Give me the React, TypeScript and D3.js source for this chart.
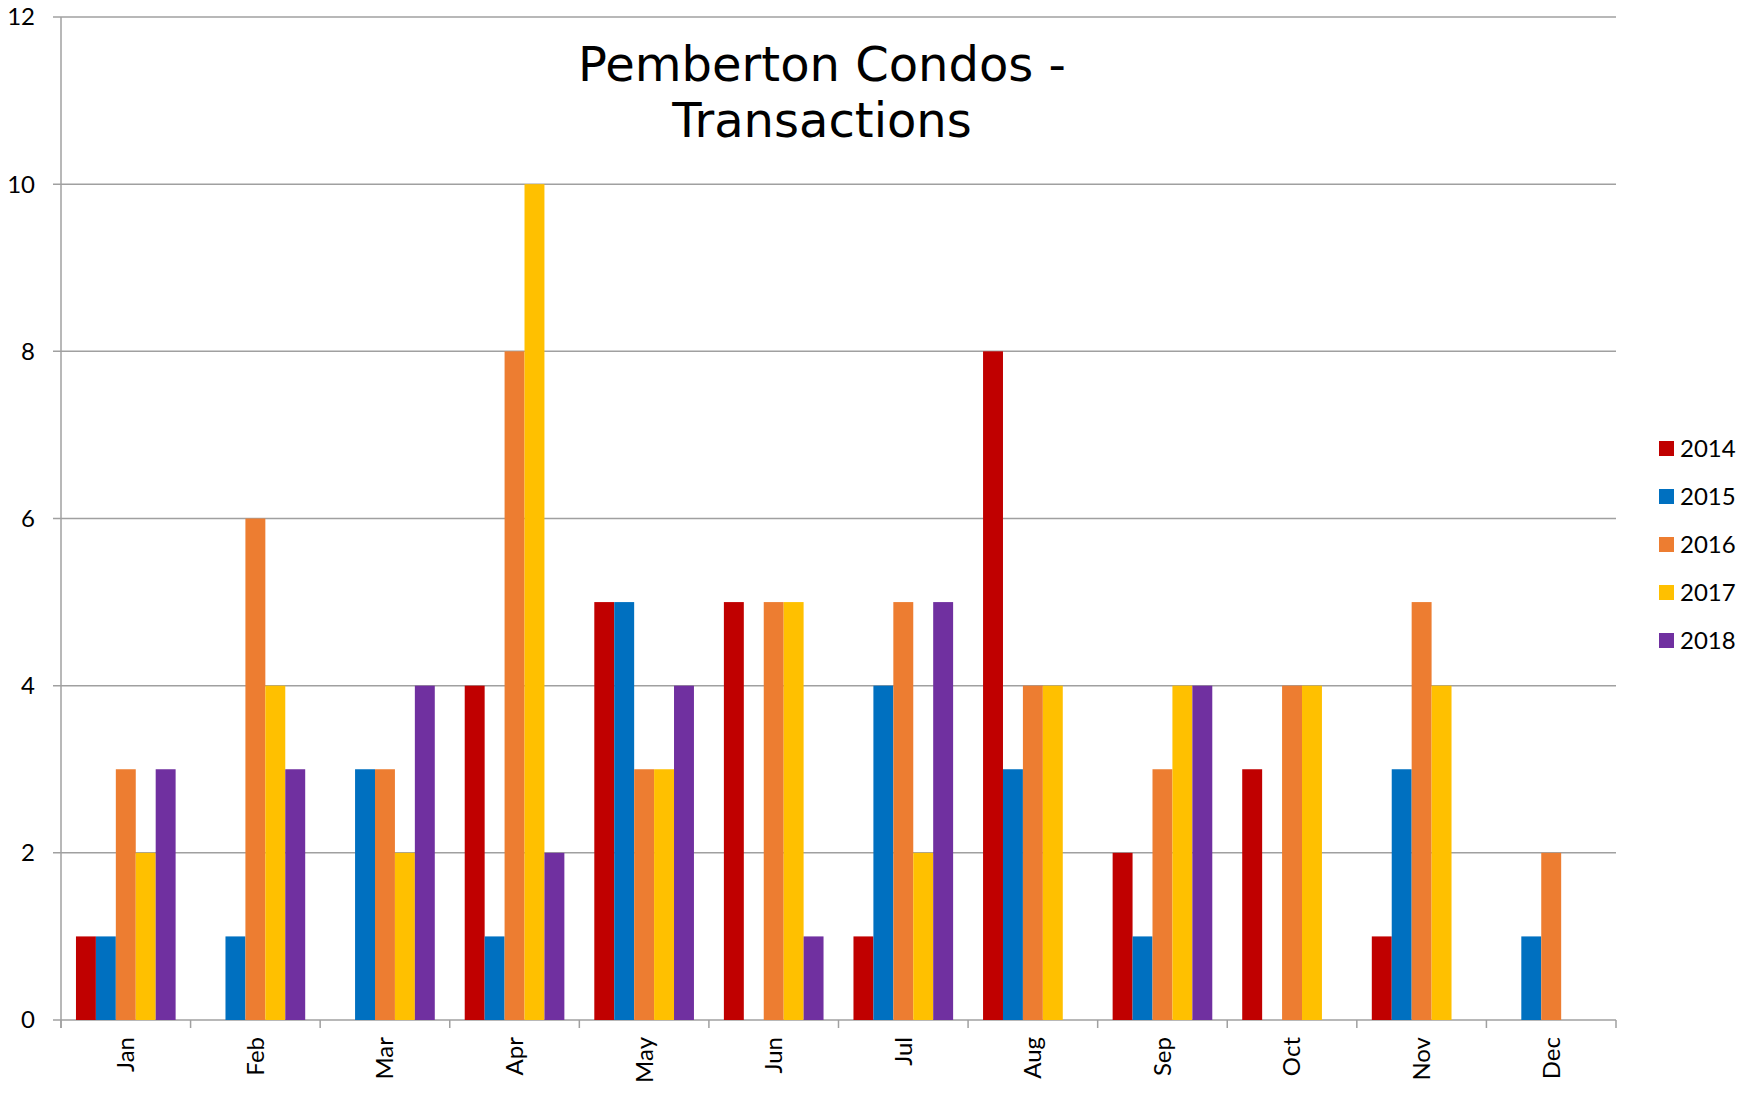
import React from 'react';
import * as d3 from 'd3';

const months = ['Jan', 'Feb', 'Mar', 'Apr', 'May', 'Jun', 'Jul', 'Aug', 'Sep', 'Oct', 'Nov', 'Dec'];
const years = ['2014', '2015', '2016', '2017', '2018'];
const colors = ['#C00000', '#0070C0', '#ED7D31', '#FFC000', '#7030A0'];

// transactions per month, one array per year
const y2014 = [1, 0, 0, 4, 5, 5, 1, 8, 2, 3, 1, 0];
const y2015 = [1, 1, 3, 1, 5, 0, 4, 3, 1, 0, 3, 1];
const y2016 = [3, 6, 3, 8, 3, 5, 5, 4, 3, 4, 5, 2];
const y2017 = [2, 4, 2, 10, 3, 5, 2, 4, 4, 4, 4, 0];
const y2018 = [3, 3, 4, 2, 4, 1, 5, 0, 4, 0, 0, 0];
const series = [y2014, y2015, y2016, y2017, y2018];

const yTicks = [0, 2, 4, 6, 8, 10, 12];

const W = 1752;
const H = 1097;
const margin = { top: 17, right: 136, bottom: 77, left: 61 };
const labelFont = 'Lato, "Open Sans", sans-serif';

const App = () => {
  const x0 = d3.scaleBand()
    .domain(months)
    .range([margin.left, W - margin.right])
    .paddingInner(0.231)
    .paddingOuter(0.1155);

  const x1 = d3.scaleBand()
    .domain(years)
    .range([0, x0.bandwidth()]);

  const y = d3.scaleLinear()
    .domain([0, 12])
    .range([H - margin.bottom, margin.top]);

  const step = x0.step();
  const plotLeft = margin.left;
  const plotRight = W - margin.right;

  return (
    <svg width={W} height={H} style={{ position: 'absolute', left: 0, top: 0, background: '#fff' }}>
      <rect x={0} y={0} width={W} height={H} fill="#fff" />

      {/* gridlines */}
      {yTicks.map(t => (
        <line key={t} x1={plotLeft - 8} x2={plotRight} y1={y(t)} y2={y(t)} stroke="#a0a0a0" strokeWidth={1.5} />
      ))}

      {/* bars */}
      {series.map((vals, si) => (
        <g key={years[si]} fill={colors[si]}>
          {vals.map((v, mi) => v > 0 ? (
            <rect key={mi}
              x={(x0(months[mi]) || 0) + (x1(years[si]) || 0)}
              y={y(v)}
              width={x1.bandwidth()}
              height={y(0) - y(v)} />
          ) : null)}
        </g>
      ))}

      {/* y axis */}
      <line x1={plotLeft} x2={plotLeft} y1={y(12)} y2={y(0) + 8} stroke="#a0a0a0" strokeWidth={1.5} />
      {yTicks.map(t => (
        <text key={t} x={35} y={y(t)} dy="0.35em" textAnchor="end" fontFamily={labelFont} fontSize={24} fill="#000">{t}</text>
      ))}

      {/* x axis ticks */}
      {months.map((m, i) => (
        <line key={m} x1={plotLeft + i * step} x2={plotLeft + i * step} y1={y(0)} y2={y(0) + 8} stroke="#a0a0a0" strokeWidth={1.5} />
      ))}
      <line x1={plotRight} x2={plotRight} y1={y(0)} y2={y(0) + 8} stroke="#a0a0a0" strokeWidth={1.5} />
      {months.map(m => {
        const cx = (x0(m) || 0) + x0.bandwidth() / 2;
        const ty = y(0) + 17;
        return (
          <text key={m} transform={`translate(${cx},${ty}) rotate(-90)`} textAnchor="end" dy="0.35em"
            fontFamily={labelFont} fontSize={24} fill="#000">{m}</text>
        );
      })}

      {/* title */}
      <text x={822} textAnchor="middle" fontFamily='"DejaVu Sans", Verdana, sans-serif' fontSize={48} fill="#000">
        <tspan x={822} y={81}>Pemberton Condos -</tspan>
        <tspan x={822} y={137}>Transactions</tspan>
      </text>

      {/* legend */}
      {years.map((yr, i) => (
        <g key={yr} transform={`translate(1659,${441 + i * 48})`}>
          <rect width={15} height={15} fill={colors[i]} />
          <text x={21} y={7.5} dy="0.35em" fontFamily={labelFont} fontSize={24} fill="#000">{yr}</text>
        </g>
      ))}

      {/* outer rounded border, only its corners show */}
      <rect x={-6} y={-40} width={W + 12} height={H + 44} rx={14} fill="none" stroke="#000" strokeWidth={2} />
    </svg>
  );
};

export default App;
